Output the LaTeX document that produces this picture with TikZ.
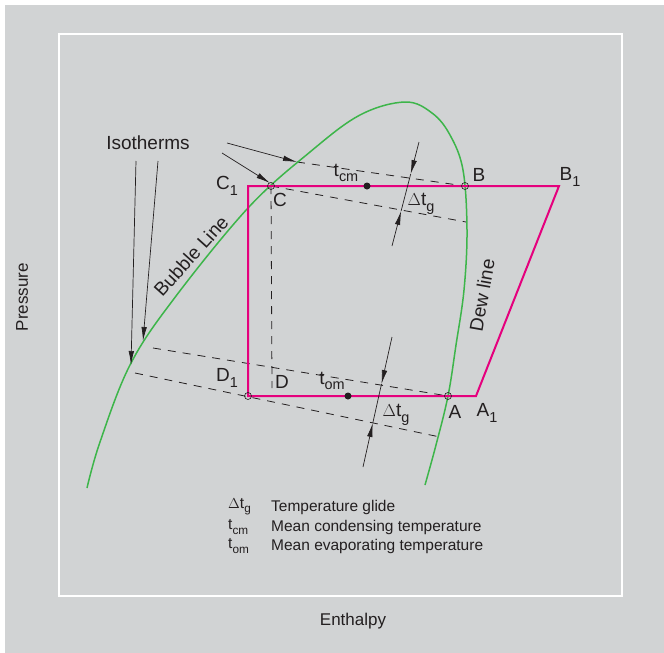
\documentclass[tikz,border=0pt]{standalone}
\usepackage{fontspec}
\setmainfont{Liberation Sans}
\usetikzlibrary{arrows.meta}

\definecolor{panelgray}{HTML}{D1D3D4}
\definecolor{cyclemagenta}{HTML}{E5007D}
\definecolor{satgreen}{HTML}{3DB54A}
\definecolor{inkgray}{HTML}{231F20}

% lowered subscript in the text font
\newcommand{\lowsub}[1]{\raisebox{-0.28em}{\scalebox{0.76}{#1}}}

\begin{document}
\begin{tikzpicture}[
    x=1pt, y=-1pt,
    cycleline/.style={draw=cyclemagenta, line width=2pt, line join=miter},
    satline/.style={draw=satgreen, line width=1.5pt},
    isoline/.style={draw=inkgray, line width=0.8pt, dash pattern=on 8pt off 7pt},
    pointer/.style={draw=inkgray, line width=0.7pt, -{Latex[length=14pt,width=5.5pt]}},
    lbl/.style={font=\fontsize{19}{22}\selectfont, text=inkgray, inner sep=0pt},
    axislbl/.style={font=\fontsize{17}{20}\selectfont, text=inkgray, inner sep=0pt},
    keylbl/.style={font=\fontsize{15.5}{18}\selectfont, text=inkgray, inner sep=0pt, anchor=west},
    opendot/.style={circle, draw=inkgray, line width=0.6pt, minimum size=7pt, inner sep=0pt},
    solidot/.style={circle, fill=inkgray, minimum size=7pt, inner sep=0pt}
]

% Frame
\fill[white] (0,0) rectangle (664,653);
\fill[panelgray] (5,5) rectangle (664,653);
\draw[white, line width=1.2pt] (59,34) rectangle (622,596);

% Axis titles
\node[axislbl, rotate=90] (pressure) at (22,297) {Pressure};
\node[axislbl] (enthalpy) at (353,621) {Enthalpy};

% Cycle corners and state points
\coordinate (C1) at (248,186);
\coordinate (B1) at (559,186);
\coordinate (A1) at (476,396);
\coordinate (D1) at (248,396);
\coordinate (C) at (271,186);
\coordinate (B) at (465,186);
\coordinate (A) at (448,396);

% Isotherms
\coordinate (isoCa) at (297,162);
\coordinate (isoCb) at (466,222);
\coordinate (isoOa) at (153,348);
\coordinate (isoOb) at (135,373);
\coordinate (isoOc) at (440,437);
\coordinate (Dfoot) at (272,388);
\draw[isoline] (isoCa) -- (B);
\draw[isoline] (C) -- (isoCb);
\draw[isoline] (isoOa) -- (A);
\draw[isoline] (isoOb) -- (isoOc);
\draw[isoline] (C) -- (Dfoot);

% Saturation curve
\draw[satline] plot[smooth, tension=0.6] coordinates {
    (87,488) (100,442) (130,365) (173,300) (248,208) (310,152)
    (360,115) (405,102) (432,113) (450,135) (463,170) (467,230)
    (464,290) (456,345) (448,396) (436,445) (425,485)};

% Cycle
\draw[cycleline] (C1) -- (B1) -- (A1) -- (D1) -- cycle;

% Points
\node[opendot] (pC) at (C) {};
\node[opendot] (pB) at (B) {};
\node[opendot] (pA) at (A) {};
\node[opendot] (pD1) at (D1) {};
\node[solidot] (tcm) at (367,186) {};
\node[solidot] (tom) at (348,396) {};

% Point labels
\node[lbl] (lC1) at (227,186) {C\lowsub{1}};
\node[lbl] (lC) at (280,200) {C};
\node[lbl] (lB) at (479,175) {B};
\node[lbl] (lB1) at (570,177) {B\lowsub{1}};
\node[lbl] (lD1) at (227,378) {D\lowsub{1}};
\node[lbl] (lD) at (282,382) {D};
\node[lbl] (lA) at (455,412) {A};
\node[lbl] (lA1) at (487,413) {A\lowsub{1}};
\node[lbl] (ltcm) at (346,173) {t\lowsub{cm}};
\node[lbl] (ltom) at (332,381) {t\lowsub{om}};
\node[lbl] (ldtc) at (421,204) {$\Delta$t\lowsub{g}};
\node[lbl] (ldto) at (396,415) {$\Delta$t\lowsub{g}};
\node[lbl, rotate=48] (bubble) at (191,256) {Bubble Line};
\node[lbl, rotate=80] (dew) at (482,295) {Dew line};

% Isotherm pointers
\node[lbl] (iso) at (148,143) {Isotherms};
\coordinate (isoA) at (227,143);
\coordinate (isoB) at (222,153);
\coordinate (isoC) at (136,161);
\coordinate (isoD) at (158,161);
\draw[pointer] (isoA) -- (isoCa);
\draw[pointer] (isoB) -- (270,183);
\draw[pointer] (isoC) -- (131,365);
\draw[pointer] (isoD) -- (143,341);

% Glide dimensions
\coordinate (gcT) at (419,142);
\coordinate (gcB) at (392,246);
\coordinate (gc1) at (410.7,174);
\coordinate (gc2) at (401.1,211);
\draw[pointer] (gcT) -- (gc1);
\draw[pointer] (gcB) -- (gc2);
\draw[draw=inkgray, line width=0.7pt] (gc1) -- (gc2);
\coordinate (goT) at (392,337);
\coordinate (goB) at (363,467);
\coordinate (go1) at (381.5,384);
\coordinate (go2) at (372.8,423);
\draw[pointer] (goT) -- (go1);
\draw[pointer] (goB) -- (go2);
\draw[draw=inkgray, line width=0.7pt] (go1) -- (go2);

% Key
\node[keylbl] (k1) at (228,507) {$\Delta$t\lowsub{g}};
\node[keylbl] (k2) at (228,527) {t\lowsub{cm}};
\node[keylbl] (k3) at (228,546) {t\lowsub{om}};
\node[keylbl] (k1t) at (271,507) {Temperature glide};
\node[keylbl] (k2t) at (271,527) {Mean condensing temperature};
\node[keylbl] (k3t) at (271,546) {Mean evaporating temperature};

\end{tikzpicture}
\end{document}
